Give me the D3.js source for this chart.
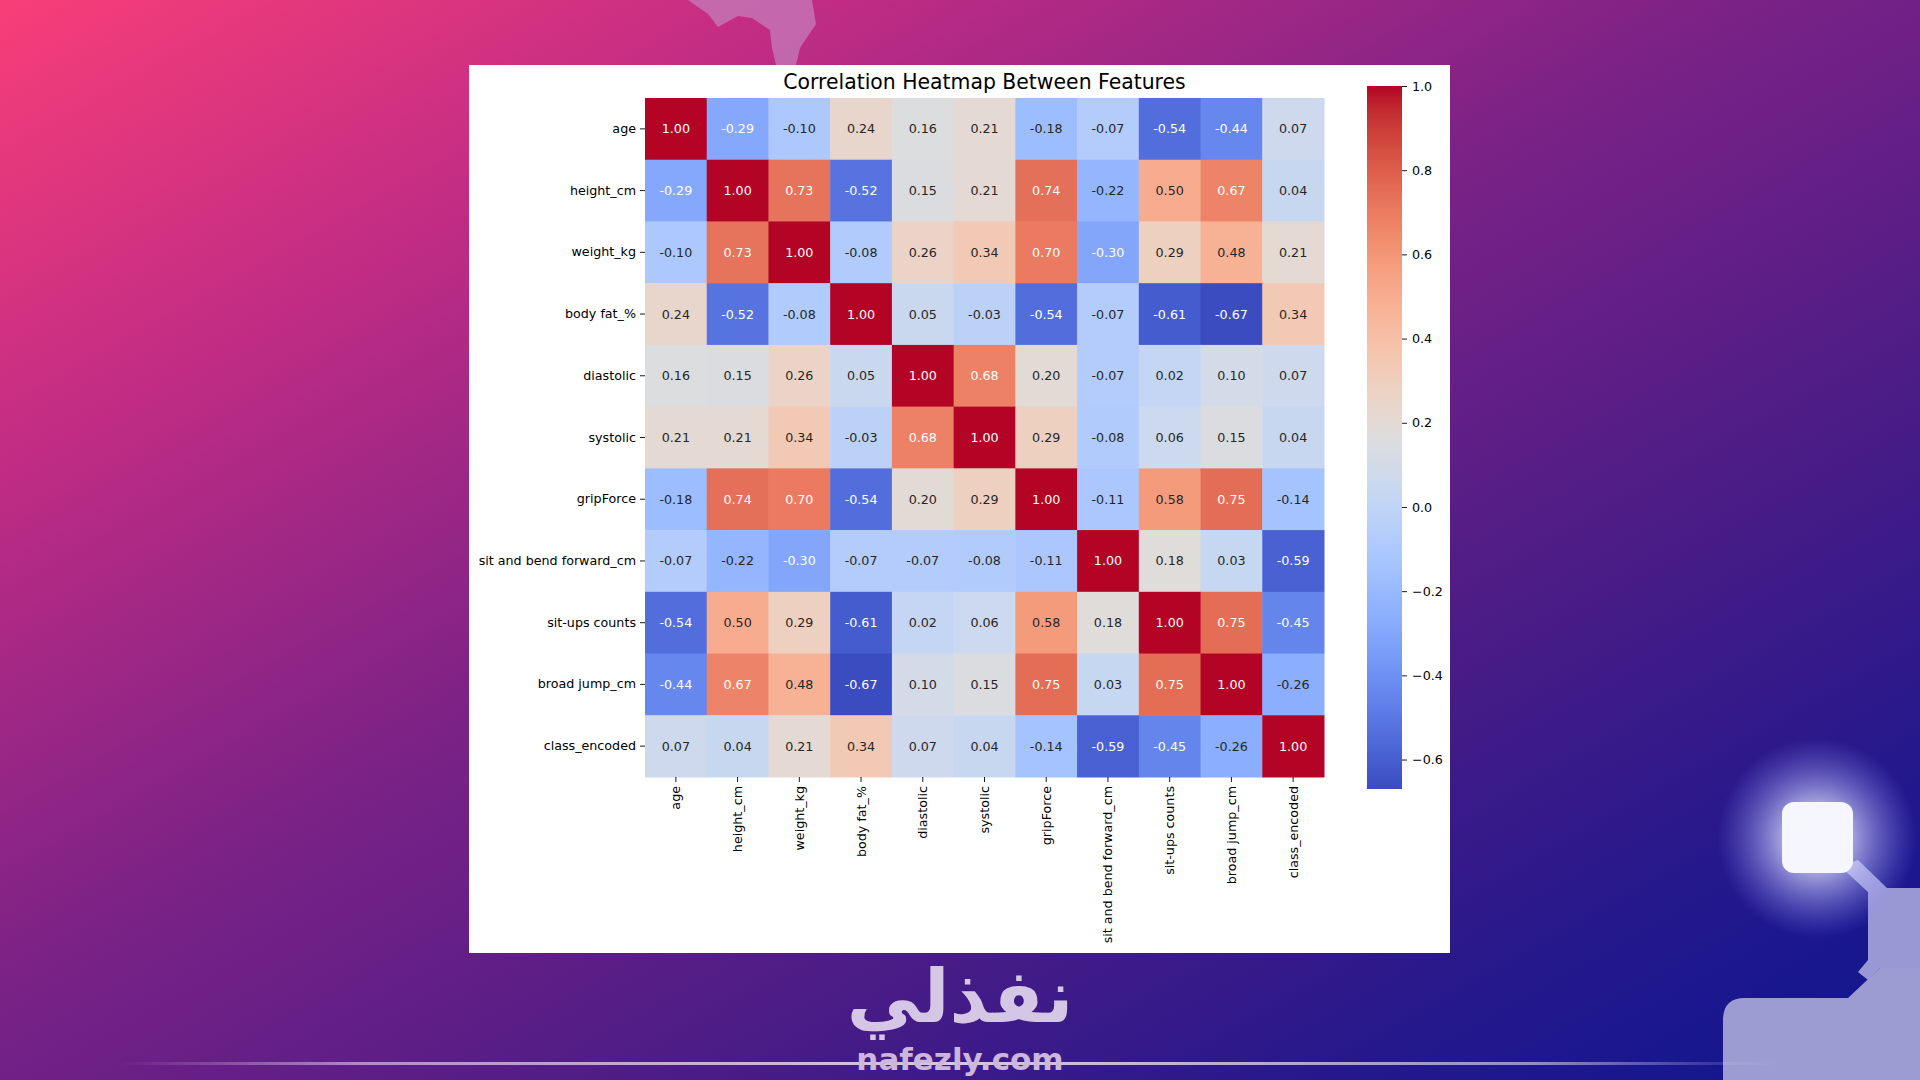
<!DOCTYPE html>
<html>
<head>
<meta charset="utf-8">
<script src="https://cdn.jsdelivr.net/npm/d3@7"></script>
<style>
  html, body { margin: 0; padding: 0; width: 1920px; height: 1080px; overflow: hidden; }
  svg { display: block; }
  text { font-family: "DejaVu Sans", sans-serif; }
</style>
</head>
<body>
<svg id="chart" width="1920" height="1080"></svg>
<script>
// ---------------- data ----------------
const features = ["age", "height_cm", "weight_kg", "body fat_%", "diastolic", "systolic",
  "gripForce", "sit and bend forward_cm", "sit-ups counts", "broad jump_cm", "class_encoded"];

const rowAge       = [1.00, -0.29, -0.10, 0.24, 0.16, 0.21, -0.18, -0.07, -0.54, -0.44, 0.07];
const rowHeight    = [-0.29, 1.00, 0.73, -0.52, 0.15, 0.21, 0.74, -0.22, 0.50, 0.67, 0.04];
const rowWeight    = [-0.10, 0.73, 1.00, -0.08, 0.26, 0.34, 0.70, -0.30, 0.29, 0.48, 0.21];
const rowBodyFat   = [0.24, -0.52, -0.08, 1.00, 0.05, -0.03, -0.54, -0.07, -0.61, -0.67, 0.34];
const rowDiastolic = [0.16, 0.15, 0.26, 0.05, 1.00, 0.68, 0.20, -0.07, 0.02, 0.10, 0.07];
const rowSystolic  = [0.21, 0.21, 0.34, -0.03, 0.68, 1.00, 0.29, -0.08, 0.06, 0.15, 0.04];
const rowGrip      = [-0.18, 0.74, 0.70, -0.54, 0.20, 0.29, 1.00, -0.11, 0.58, 0.75, -0.14];
const rowSitBend   = [-0.07, -0.22, -0.30, -0.07, -0.07, -0.08, -0.11, 1.00, 0.18, 0.03, -0.59];
const rowSitUps    = [-0.54, 0.50, 0.29, -0.61, 0.02, 0.06, 0.58, 0.18, 1.00, 0.75, -0.45];
const rowBroadJump = [-0.44, 0.67, 0.48, -0.67, 0.10, 0.15, 0.75, 0.03, 0.75, 1.00, -0.26];
const rowClass     = [0.07, 0.04, 0.21, 0.34, 0.07, 0.04, -0.14, -0.59, -0.45, -0.26, 1.00];
const corrRows = [rowAge, rowHeight, rowWeight, rowBodyFat, rowDiastolic, rowSystolic,
  rowGrip, rowSitBend, rowSitUps, rowBroadJump, rowClass];

const colorbarTicks = [1.0, 0.8, 0.6, 0.4, 0.2, 0.0, -0.2, -0.4, -0.6];
const titleText = "Correlation Heatmap Between Features";

// coolwarm (Moreland) anchor colours
const coolwarmAnchors = [
  [59,76,192],[68,90,204],[77,104,215],[87,117,225],[98,130,234],[108,142,241],[119,154,247],
  [130,165,251],[141,176,254],[152,185,255],[163,194,255],[174,201,253],[184,208,249],
  [194,213,244],[204,217,238],[213,219,230],[221,221,221],[229,216,209],[236,211,197],
  [241,204,184],[245,196,172],[247,187,160],[247,177,148],[247,166,137],[244,154,123],
  [241,141,111],[236,127,99],[229,112,89],[222,96,77],[213,80,66],[203,62,56],[192,40,47],[180,4,38]
];

// ---------------- layout ----------------
const svg = d3.select("#chart");
const W = 1920, H = 1080;
const defs = svg.append("defs");

// background gradient
const bg = defs.append("linearGradient").attr("id", "bg")
  .attr("x1", "0").attr("y1", "0").attr("x2", "1").attr("y2", "1");
[[0, "#f83e78"], [0.22, "#c02c84"], [0.45, "#7c2286"], [0.68, "#4a1c86"], [0.85, "#24188c"], [1, "#0e1690"]]
  .forEach(([o, c]) => bg.append("stop").attr("offset", o).attr("stop-color", c));
svg.append("rect").attr("width", W).attr("height", H).attr("fill", "url(#bg)");

// glow
const glow = defs.append("radialGradient").attr("id", "glow");
glow.append("stop").attr("offset", 0).attr("stop-color", "#ffffff").attr("stop-opacity", 1);
glow.append("stop").attr("offset", 0.3).attr("stop-color", "#e4e6ff").attr("stop-opacity", 0.75);
glow.append("stop").attr("offset", 1).attr("stop-color", "#8a8cff").attr("stop-opacity", 0);

// top decoration
svg.append("path")
  .attr("d", "M688,0 L708,14 L718,27 L738,16 L752,18 L770,30 L772,48 L776,65 L796,65 L800,48 L808,36 L816,24 L812,0 Z")
  .attr("fill", "#c472b4").attr("opacity", 0.85);

// bottom-right decoration
svg.append("path")
  .attr("d", "M1840,866 L1868,892 L1868,960 L1858,972 L1868,980 L1880,968 L1920,968 L1920,888 L1887,888 L1858,860 Z")
  .attr("fill", "#a6a6dc").attr("opacity", 0.9);
svg.append("path")
  .attr("d", "M1745,998 L1848,998 L1880,968 L1920,968 L1920,1080 L1723,1080 L1723,1020 Q1723,998 1745,998 Z")
  .attr("fill", "#9c9cd2");
svg.append("circle").attr("cx", 1817).attr("cy", 838).attr("r", 100).attr("fill", "url(#glow)");
svg.append("rect").attr("x", 1782).attr("y", 802).attr("width", 71).attr("height", 71)
  .attr("rx", 12).attr("fill", "#f6f6ff");

// watermark line
const lineGrad = defs.append("linearGradient").attr("id", "wline");
[[0, 0], [0.15, 0.6], [0.5, 0.9], [0.85, 0.6], [1, 0]].forEach(([o, a]) =>
  lineGrad.append("stop").attr("offset", o).attr("stop-color", "#e8dcf0").attr("stop-opacity", a));
svg.append("rect").attr("x", 120).attr("y", 1062).attr("width", 1660).attr("height", 3).attr("fill", "url(#wline)");

// watermark text
svg.append("text").attr("x", 960).attr("y", 1022).attr("text-anchor", "middle")
  .style("font-family", "'DejaVu Sans', sans-serif").style("font-weight", "bold")
  .style("font-size", "74px").attr("fill", "#d6c6e6").text("نفذلي");
svg.append("text").attr("x", 960).attr("y", 1070).attr("text-anchor", "middle")
  .style("font-family", "'DejaVu Sans', sans-serif").style("font-weight", "bold")
  .style("font-size", "31px").attr("fill", "#cdb6dc").text("nafezly.com");

// white figure panel
svg.append("rect").attr("x", 469).attr("y", 65).attr("width", 981).attr("height", 888).attr("fill", "#ffffff");

// ---------------- heatmap ----------------
const hmLeft = 645, hmTop = 98, hmSize = 679;
const x = d3.scaleBand().domain(features).range([hmLeft, hmLeft + hmSize]);
const y = d3.scaleBand().domain(features).range([hmTop, hmTop + hmSize]);

const allVals = corrRows.flat();
const vmin = d3.min(allVals), vmax = d3.max(allVals);
const anchorDomain = coolwarmAnchors.map((_, i) => vmin + (vmax - vmin) * i / (coolwarmAnchors.length - 1));
const color = d3.scaleLinear().domain(anchorDomain)
  .range(coolwarmAnchors.map(c => d3.rgb(c[0], c[1], c[2]).toString()))
  .interpolate(d3.interpolateRgb).clamp(true);

function luminance(c) {
  const rgb = d3.rgb(c);
  const lin = v => { v = v / 255; return v <= 0.03928 ? v / 12.92 : Math.pow((v + 0.055) / 1.055, 2.4); };
  return 0.2126 * lin(rgb.r) + 0.7152 * lin(rgb.g) + 0.0722 * lin(rgb.b);
}

const cells = [];
corrRows.forEach((row, i) => row.forEach((v, j) => cells.push({ r: features[i], c: features[j], v })));

const g = svg.append("g");
g.selectAll("rect.cell").data(cells).join("rect")
  .attr("class", "cell")
  .attr("x", d => x(d.c)).attr("y", d => y(d.r))
  .attr("width", x.bandwidth() + 0.5).attr("height", y.bandwidth() + 0.5)
  .attr("fill", d => color(d.v));

g.selectAll("text.annot").data(cells).join("text")
  .attr("class", "annot")
  .attr("x", d => x(d.c) + x.bandwidth() / 2)
  .attr("y", d => y(d.r) + y.bandwidth() / 2)
  .attr("text-anchor", "middle").attr("dominant-baseline", "central")
  .style("font-size", "12.7px")
  .attr("fill", d => luminance(color(d.v)) > 0.408 ? "#262626" : "#ffffff")
  .text(d => d.v.toFixed(2));

// axes
const yAxis = svg.append("g").attr("transform", `translate(${hmLeft},0)`)
  .call(d3.axisLeft(y).tickSize(5).tickPadding(4));
yAxis.select(".domain").remove();
yAxis.selectAll("text").style("font-size", "12.7px").style("font-family", "'DejaVu Sans', sans-serif").attr("fill", "#000");
yAxis.selectAll("line").attr("stroke", "#000").attr("stroke-width", 0.9);

const xAxis = svg.append("g").attr("transform", `translate(0,${hmTop + hmSize})`)
  .call(d3.axisBottom(x).tickSize(5).tickPadding(4));
xAxis.select(".domain").remove();
xAxis.selectAll("line").attr("stroke", "#000").attr("stroke-width", 0.9);
xAxis.selectAll("text")
  .style("font-size", "12.7px").style("font-family", "'DejaVu Sans', sans-serif").attr("fill", "#000")
  .attr("text-anchor", "end").attr("dy", null)
  .attr("dominant-baseline", "central")
  .attr("transform", "translate(0,9) rotate(-90)")
  .attr("x", 0).attr("y", 0);

// title
svg.append("text").attr("x", hmLeft + hmSize / 2).attr("y", 89)
  .attr("text-anchor", "middle").style("font-size", "20.4px").attr("fill", "#000")
  .text(titleText);

// ---------------- colorbar ----------------
const cbX = 1367, cbW = 35, cbTop = 86, cbBottom = 789;
const cbScale = d3.scaleLinear().domain([vmin, vmax]).range([cbBottom, cbTop]);
const cbGrad = defs.append("linearGradient").attr("id", "cbgrad")
  .attr("x1", 0).attr("y1", 1).attr("x2", 0).attr("y2", 0);
coolwarmAnchors.forEach((c, i) => cbGrad.append("stop")
  .attr("offset", i / (coolwarmAnchors.length - 1))
  .attr("stop-color", d3.rgb(c[0], c[1], c[2]).toString()));
svg.append("rect").attr("x", cbX).attr("y", cbTop).attr("width", cbW).attr("height", cbBottom - cbTop)
  .attr("fill", "url(#cbgrad)");

const cbAxis = svg.append("g").attr("transform", `translate(${cbX + cbW},0)`)
  .call(d3.axisRight(cbScale).tickValues(colorbarTicks).tickSize(5).tickPadding(5)
    .tickFormat(d => (d < 0 ? "\u2212" : "") + Math.abs(d).toFixed(1)));
cbAxis.select(".domain").remove();
cbAxis.selectAll("line").attr("stroke", "#000").attr("stroke-width", 0.9);
cbAxis.selectAll("text").style("font-size", "12.7px").style("font-family", "'DejaVu Sans', sans-serif").attr("fill", "#000");
</script>
</body>
</html>
